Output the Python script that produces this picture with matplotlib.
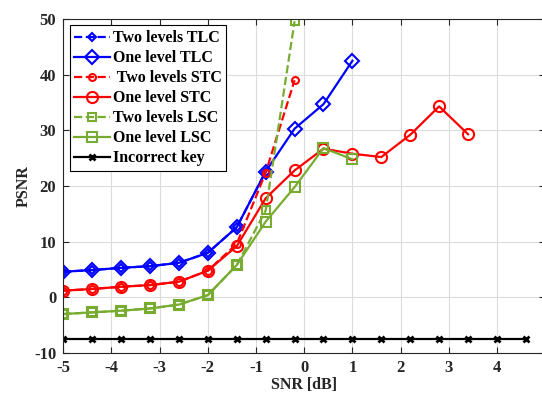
# coding: utf-8
# PSNR vs SNR plot (MATLAB-like style)
import matplotlib
matplotlib.use('Agg')
from matplotlib import pyplot as plt
import numpy as np

# SNR axis values
snr_one_tlc = [-5, -4.4, -3.8, -3.2, -2.6, -2, -1.4, -0.8, -0.2, 0.4, 1.0]
snr_two_tlc = [-5, -4.4, -3.8, -3.2, -2.6, -2, -1.4, -0.8]
snr_one_stc = [-5, -4.4, -3.8, -3.2, -2.6, -2, -1.4, -0.8, -0.2, 0.4, 1.0, 1.6, 2.2, 2.8, 3.4]
snr_two_stc = [-5, -4.4, -3.8, -3.2, -2.6, -2, -1.4, -0.8, -0.2]
snr_one_lsc = [-5, -4.4, -3.8, -3.2, -2.6, -2, -1.4, -0.8, -0.2, 0.4, 1.0]
snr_two_lsc = [-5, -4.4, -3.8, -3.2, -2.6, -2, -1.4, -0.8, -0.2]
snr_wrong = [-5, -4.4, -3.8, -3.2, -2.6, -2, -1.4, -0.8, -0.2, 0.4, 1.0, 1.6, 2.2, 2.8, 3.4, 4.0, 4.6]

# PSNR values
psnr_one_tlc = [4.6, 4.9, 5.3, 5.6, 6.2, 8.0, 12.6, 22.6, 30.3, 34.7, 42.5]
psnr_two_tlc = [4.6, 4.9, 5.3, 5.6, 6.2, 8.0, 12.6, 22.6]
psnr_one_stc = [1.2, 1.5, 1.9, 2.2, 2.8, 4.8, 9.2, 17.8, 22.8, 26.7, 25.8, 25.2, 29.2, 34.3, 29.3]
psnr_two_stc = [1.2, 1.5, 1.9, 2.2, 2.8, 4.8, 9.6, 22.4, 39.0]
psnr_one_lsc = [-3.0, -2.7, -2.4, -2.0, -1.3, 0.4, 5.8, 13.6, 19.8, 26.8, 24.8]
psnr_two_lsc = [-3.0, -2.7, -2.4, -2.0, -1.3, 0.4, 5.8, 15.6, 49.6]
psnr_wrong = [-7.5] * 17

labels = ['Two levels TLC', 'One level TLC', ' Two levels STC', 'One level STC',
          'Two levels LSC', 'One level LSC', 'Incorrect key']

BLUE = '#0000FF'
RED = '#FF0000'
GREEN = '#77AC30'
TXT = '#262626'


def main():
    plt.rcParams['font.family'] = ['Liberation Serif', 'DejaVu Serif']
    plt.rcParams['font.weight'] = 'bold'
    plt.rcParams['axes.unicode_minus'] = False

    fig = plt.figure(figsize=(5.42, 3.96), dpi=100)
    # right edge of the axes falls slightly outside the image (as in reference)
    ax = fig.add_axes([0.1168, 0.1086, 0.889, 0.8434])

    lw = 1.6
    ax.plot(snr_two_tlc, psnr_two_tlc, '--', color=BLUE, lw=lw, marker='D',
            ms=4.5, mfc='none', mew=1.5, label=labels[0])
    ax.plot(snr_one_tlc, psnr_one_tlc, '-', color=BLUE, lw=lw, marker='D',
            ms=7.5, mfc='none', mew=1.5, label=labels[1])
    ax.plot(snr_two_stc, psnr_two_stc, '--', color=RED, lw=lw, marker='o',
            ms=5, mfc='none', mew=1.5, label=labels[2])
    ax.plot(snr_one_stc, psnr_one_stc, '-', color=RED, lw=lw, marker='o',
            ms=8, mfc='none', mew=1.5, label=labels[3])
    ax.plot(snr_two_lsc, psnr_two_lsc, '--', color=GREEN, lw=lw, marker='s',
            ms=5.5, mfc='none', mew=1.5, label=labels[4])
    ax.plot(snr_one_lsc, psnr_one_lsc, '-', color=GREEN, lw=lw, marker='s',
            ms=6.5, mfc='none', mew=1.5, label=labels[5])
    ax.plot(snr_wrong, psnr_wrong, '-', color='black', lw=lw, marker='x',
            ms=4.5, mew=2.0, label=labels[6])

    ax.set_xlim(-5, 5)
    ax.set_ylim(-10, 50)
    ax.set_xticks(np.arange(-5, 6, 1))
    ax.set_yticks(np.arange(-10, 51, 10))
    ax.grid(True, color='#DCDCDC', lw=0.8)
    ax.set_axisbelow(True)

    ax.tick_params(direction='in', top=True, right=True, length=4, width=0.8,
                   colors=TXT, labelsize=12, pad=5)
    for lab in ax.get_xticklabels() + ax.get_yticklabels():
        lab.set_fontweight('bold')
    for sp in ax.spines.values():
        sp.set_color(TXT)
        sp.set_linewidth(0.8)

    ax.set_xlabel('SNR [dB]', fontsize=11.5, fontweight='bold', color=TXT, labelpad=1)
    ax.set_ylabel('PSNR', fontsize=11.5, fontweight='bold', color=TXT, labelpad=2)

    leg = ax.legend(loc='upper left', fontsize=11.5, frameon=True, fancybox=False,
                    framealpha=1, edgecolor='black', handlelength=2.2,
                    labelspacing=0.25, borderpad=0.3, handletextpad=0.2,
                    borderaxespad=0.4)
    leg.get_frame().set_linewidth(0.8)
    for t in leg.get_texts():
        t.set_fontweight('bold')

    fig.savefig('out.png', dpi=100)


if __name__ == '__main__':
    main()
